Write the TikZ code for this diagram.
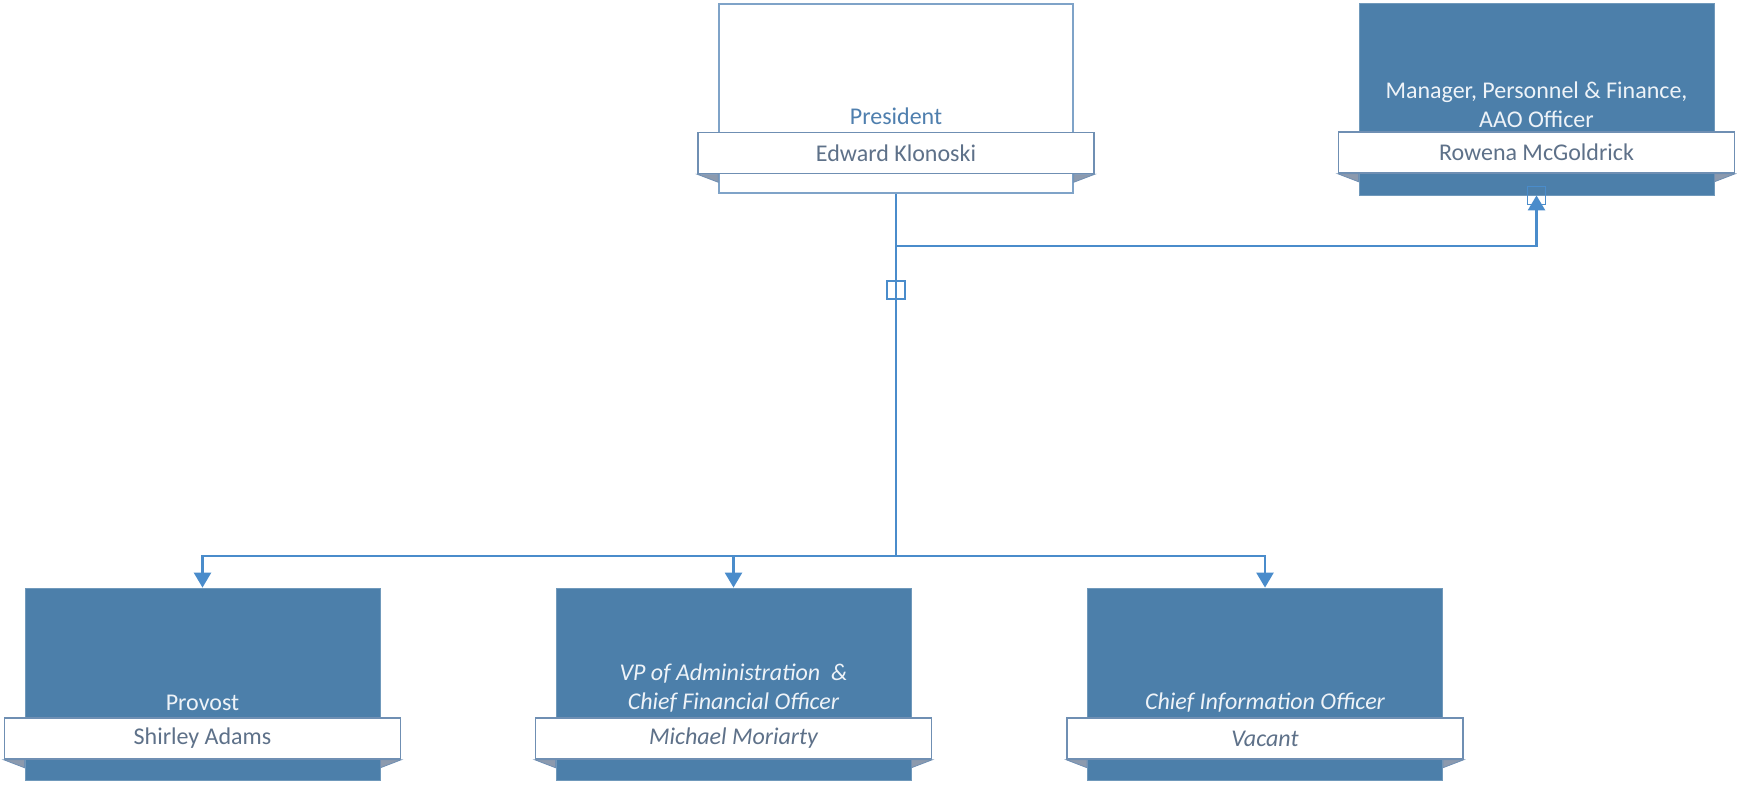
\documentclass[tikz,border=0pt]{standalone}
\usepackage{fontspec}
\setmainfont{Carlito}
\usetikzlibrary{arrows.meta,calc}
\definecolor{boxblue}{HTML}{4C7FAA}
\definecolor{linkblue}{HTML}{4A8CCB}
\definecolor{bandedge}{HTML}{6F8FB3}
\definecolor{nametext}{HTML}{5E7189}
\definecolor{pedge}{HTML}{7FA3C8}
\definecolor{ptext}{HTML}{4F7FAE}
\definecolor{foldc}{HTML}{8C9AAE}
\definecolor{titletext}{HTML}{EEF3F8}
\tikzset{
  rolebox/.style={rectangle, fill=boxblue, draw=boxblue!80!white, line width=0.8pt, inner sep=0pt, minimum width=355pt, minimum height=192pt},
  presbox/.style={rectangle, fill=white, draw=pedge, line width=1.5pt, inner sep=0pt, minimum width=354pt, minimum height=189pt},
  band/.style={rectangle, fill=white, draw=bandedge, line width=1.5pt, inner sep=0pt, minimum width=396pt, minimum height=41pt, text=nametext, font=\fontsize{24}{29}\selectfont},
  title/.style={text=titletext, align=center, font=\fontsize{24}{29}\selectfont},
  ititle/.style={title, font=\fontsize{24}{29}\selectfont\itshape},
  conn/.style={draw=linkblue, line width=2.5pt},
  tip/.style={-{Triangle[width=17pt,length=15pt]}},
  jbox/.style={rectangle, draw=linkblue, line width=1.8pt, inner sep=0pt, minimum size=18pt},
  fold/.style={fill=foldc, draw=bandedge, line width=0.8pt}
}
\begin{document}
\begin{tikzpicture}[x=1pt,y=-1pt]
\useasboundingbox (0,0) rectangle (1737,788);
% President
\node[presbox] (pres) at (896,98.5) {};
\node[band] (presn) at (896,153) {Edward Klonoski};
\node[title, text=ptext] (prest) at (896,116) {President};
% Manager
\node[rolebox] (mgr) at (1536.5,99) {};
\node[band] (mgrn) at (1536.5,152.5) {Rowena McGoldrick};
\node[title] (mgrt) at (1536.5,105) {Manager, Personnel \& Finance,\\AAO Officer};
% Bottom row
\node[rolebox] (prov) at (202.5,684) {};
\node[band] (provn) at (202.5,738.5) {Shirley Adams};
\node[title] (provt) at (202.5,703) {Provost};
\node[rolebox] (vp) at (733.5,684) {};
\node[band] (vpn) at (733.5,738.5) {\itshape Michael Moriarty};
\node[ititle] (vpt) at (733.5,688.5) {VP of Administration~ \&\\Chief Financial Officer};
\node[rolebox] (cio) at (1265,684) {};
\node[band] (cion) at (1265,738.5) {\itshape Vacant};
\node[ititle] (ciot) at (1265,703) {Chief Information Officer};
% folds
\foreach \b/\n in {pres/presn, mgr/mgrn, prov/provn, vp/vpn, cio/cion}{
  \fill[fold] (\n.south west) -- (\n.south west -| \b.west) -- ($(\n.south west -| \b.west)+(0,8)$) -- cycle;
  \fill[fold] (\n.south east) -- (\n.south east -| \b.east) -- ($(\n.south east -| \b.east)+(0,8)$) -- cycle;
}
% connectors
\coordinate (bus) at (896,556);
\coordinate (mj) at (896,246);
\draw[conn] (pres.south) -- (bus);
\draw[conn,tip] (bus) -| (prov.north);
\draw[conn,tip] (bus) -| (vp.north);
\draw[conn,tip] (bus) -| (cio.north);
\draw[conn,tip] (mj) -| (mgr.south);
\node[jbox] (jq) at (896,290) {};
\node[jbox] (mq) at (mgr.south) {};
\end{tikzpicture}
\end{document}
